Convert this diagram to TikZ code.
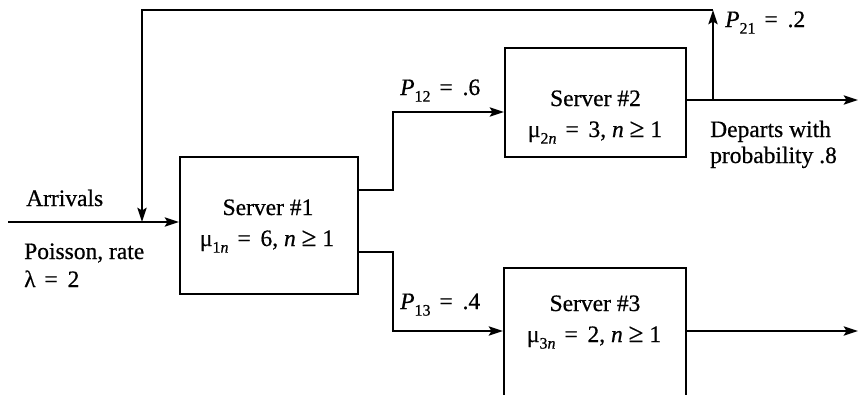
\documentclass[tikz,border=0pt]{standalone}
\usepackage{fontspec}
\setmainfont{Liberation Serif}[FakeBold=0.6]
\usetikzlibrary{arrows.meta}
\newcommand\sbx[1]{\raisebox{-0.28em}{\fontsize{16}{16}\selectfont #1}}
\newcommand\gex{{\fontsize{27}{27}\selectfont ≥}}
\newcommand\eqx{\hspace{0.38em}=\hspace{0.42em}}
\begin{document}
\begin{tikzpicture}[x=1pt,y=-1pt,
  conn/.style={line width=2.9pt},
  arr/.style={conn,-{Stealth[length=14pt,width=9pt,inset=2.5pt]}},
  box/.style={draw,rectangle,line width=2pt,inner sep=0pt},
  txt/.style={font=\fontsize{23.5}{27}\selectfont,inner sep=0pt}]
\useasboundingbox (0,0) rectangle (860,394);
\clip (0,0) rectangle (860,394);
% boxes
\node[box,minimum width=178pt,minimum height=137pt] (box1) at (269,225.5) {};
\node[box,minimum width=181pt,minimum height=109pt] (box2) at (595.5,102.5) {};
\node[box,minimum width=182pt,minimum height=162pt] (box3) at (595,349) {};
% box texts
\node[txt,anchor=base] (s1) at (268,215) {Server \#1};
\node[txt,anchor=base] (m1) at (267,246) {μ\sbx{1\textit{n}}\eqx 6, \textit{n} \gex\ 1};
\node[txt,anchor=base] (s2) at (595.5,106) {Server \#2};
\node[txt,anchor=base] (m2) at (595,137) {μ\sbx{2\textit{n}}\eqx 3, \textit{n} \gex\ 1};
\node[txt,anchor=base] (s3) at (595,311) {Server \#3};
\node[txt,anchor=base] (m3) at (594,342) {μ\sbx{3\textit{n}}\eqx 2, \textit{n} \gex\ 1};
% other labels
\node[txt,anchor=base west] (arrv) at (26,206) {Arrivals};
\node[txt,anchor=base west] (pois) at (24,259) {Poisson, rate};
\node[txt,anchor=base west] (lam) at (24,287) {λ\eqx 2};
\node[txt,anchor=base west] (p12) at (400,95) {\textit{P}\sbx{12}\eqx .6};
\node[txt,anchor=base west] (p13) at (400,309) {\textit{P}\sbx{13}\eqx .4};
\node[txt,anchor=base west] (p21) at (725,27) {\textit{P}\sbx{21}\eqx .2};
\node[txt,anchor=base west] (dep1) at (710,137) {Departs with};
\node[txt,anchor=base west] (dep2) at (710,163) {probability .8};
% coordinates
\coordinate (a0) at (8,222);
\coordinate (tl) at (142,10);
\coordinate (tr) at (713,10);
\coordinate (fb) at (713,100);
\coordinate (o1) at (358,190);
\coordinate (o2) at (358,252);
\coordinate (j1) at (393,112);
\coordinate (j2) at (393,331);
\coordinate (e2) at (858,100);
\coordinate (e3) at (858,331);
% connectors
\draw[arr] (a0) -- (a0 -| box1.west);
\draw[arr] (box1.east |- o1) -| (j1) -- (j1 -| box2.west);
\draw[arr] (box1.east |- o2) -| (j2) -- (j2 -| box3.west);
\draw[arr] (box2.east |- fb) -- (e2);
\draw[arr] (box3.east |- e3) -- (e3);
\draw[arr] (fb) -- (tr);
\draw[arr] (tr) -- (tl) -- (tl |- a0);
\end{tikzpicture}
\end{document}
